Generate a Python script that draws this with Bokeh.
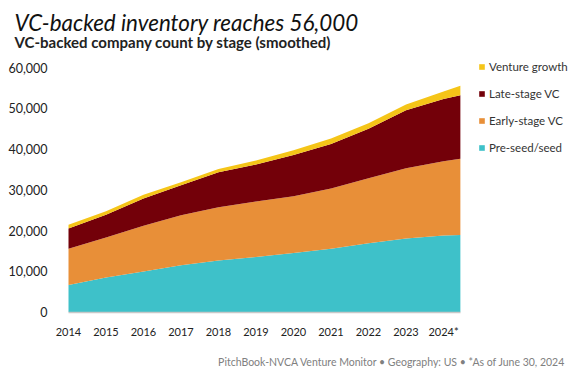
from bokeh.plotting import figure
from bokeh.models import (ColumnDataSource, Range1d, FixedTicker, NumeralTickFormatter,
                          Label, Legend, LegendItem)
from bokeh.embed import file_html
from bokeh.resources import INLINE

# ---------------- data ----------------
years = [2014, 2015, 2016, 2017, 2018, 2019, 2020, 2021, 2022, 2023, 2024, 2024.45]
seed = [6650, 8450, 9950, 11500, 12650, 13500, 14500, 15500, 16900, 18050, 18750, 18900]
early = [8850, 9850, 11200, 12250, 13050, 13600, 13900, 14800, 15900, 17250, 18250, 18700]
late = [5000, 5550, 6700, 7350, 8600, 9100, 10100, 10900, 12200, 14200, 15300, 15600]
growth = [900, 900, 900, 750, 800, 950, 1200, 1400, 1300, 1400, 1800, 2300]

series_keys = ["seed", "early", "late", "growth"]
series_names = ["Pre-seed/seed", "Early-stage VC", "Late-stage VC", "Venture growth"]
series_colors = ["#3EC1C9", "#E88F38", "#730009", "#F5C518"]

x_ticks = [2014, 2015, 2016, 2017, 2018, 2019, 2020, 2021, 2022, 2023, 2024]
x_tick_labels = ["2014", "2015", "2016", "2017", "2018", "2019", "2020", "2021",
                 "2022", "2023", "2024*"]
y_ticks = [0, 10000, 20000, 30000, 40000, 50000, 60000]

title_text = "VC-backed inventory reaches 56,000"
subtitle_text = "VC-backed company count by stage (smoothed)"
footer_text = "PitchBook-NVCA Venture Monitor  \u2022  Geography: US  \u2022  *As of June 30, 2024"

# ---------------- layout ----------------
W, H = 582, 368
X0_PX = 68.0            # screen x of first year from figure left
PX_PER_YEAR = 37.5
Y0_PX = 56.5            # screen y of zero from figure bottom
PX_PER_UNIT = 244.5 / 60000.0

x_start = x_ticks[0] - X0_PX / PX_PER_YEAR
x_end = x_start + W / PX_PER_YEAR
y_start = -Y0_PX / PX_PER_UNIT
y_end = y_start + H / PX_PER_UNIT

FONT = "Lato"

p = figure(width=W, height=H, x_range=Range1d(x_start, x_end),
           y_range=Range1d(y_start, y_end), min_border=0,
           toolbar_location=None, output_backend="svg")
p.outline_line_color = None
p.grid.visible = False
p.background_fill_color = "white"

source = ColumnDataSource(dict(year=years, seed=seed, early=early, late=late, growth=growth))
rs = p.varea_stack(stackers=series_keys, x="year", color=series_colors, source=source)

# x axis
xa = p.xaxis[0]
xa.fixed_location = 0
xa.ticker = FixedTicker(ticks=x_ticks)
xa.major_label_overrides = {t: l for t, l in zip(x_ticks, x_tick_labels)}
xa.bounds = (years[0], years[-1])
xa.axis_line_color = "#C8C8C8"
xa.axis_line_width = 1.5
xa.major_tick_line_color = None
xa.minor_tick_line_color = None
xa.major_label_standoff = 7
xa.major_label_text_font = FONT
xa.major_label_text_font_size = "11px"
xa.major_label_text_color = "#222222"

# y axis
ya = p.yaxis[0]
ya.fixed_location = x_ticks[0]
ya.ticker = FixedTicker(ticks=y_ticks)
ya.formatter = NumeralTickFormatter(format="0,0")
ya.axis_line_color = None
ya.major_tick_line_color = None
ya.minor_tick_line_color = None
ya.major_label_standoff = 15
ya.major_label_text_font = FONT
ya.major_label_text_font_size = "12.5px"
ya.major_label_text_color = "#222222"

# legend
items = [LegendItem(label=series_names[i], renderers=[rs[i]]) for i in [3, 2, 1, 0]]
legend = Legend(items=items, location=(478, 211), glyph_width=7, glyph_height=7,
                label_standoff=4, spacing=7, label_height=20, padding=0, margin=0,
                border_line_color=None, background_fill_alpha=0,
                label_text_font=FONT, label_text_font_size="11.5px",
                label_text_color="#333333")
p.add_layout(legend)

# titles and footer
p.add_layout(Label(x=14, y=H - 21.5, x_units="screen", y_units="screen", text=title_text,
                   text_font=FONT, text_font_style="italic", text_font_size="22.4px",
                   text_color="#111111", text_baseline="alphabetic"))
p.add_layout(Label(x=14, y=H - 41, x_units="screen", y_units="screen", text=subtitle_text,
                   text_font=FONT, text_font_style="bold", text_font_size="15px",
                   text_color="#222222", text_baseline="alphabetic"))
p.add_layout(Label(x=576, y=7, x_units="screen", y_units="screen", text=footer_text,
                   text_font=FONT, text_font_size="10.5px", text_align="right",
                   text_color="#808080", text_baseline="alphabetic"))

open("out.html", "w").write(file_html(p, INLINE))
